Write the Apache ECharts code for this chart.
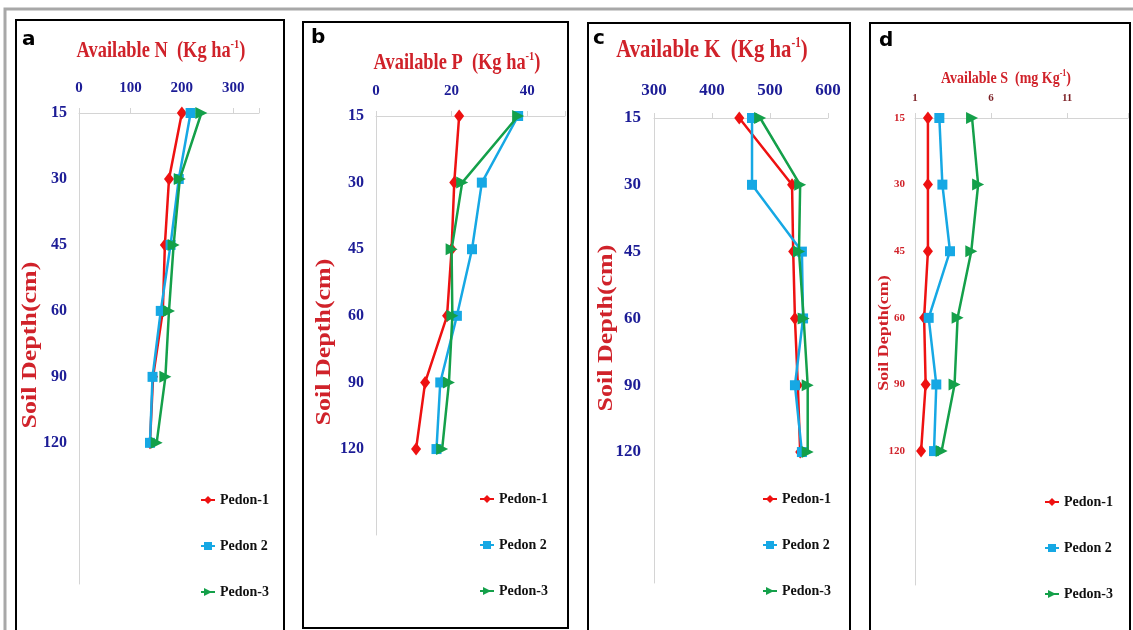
<!DOCTYPE html>
<html>
<head>
<meta charset="utf-8">
<script src="https://cdn.jsdelivr.net/npm/echarts@6/dist/echarts.min.js"></script>
<style>
  html, body { margin: 0; padding: 0; background: #fff; }
  #chart { width: 1133px; height: 630px; }
</style>
</head>
<body>
<div id="chart"></div>
<script>
  // depth categories (cm) shared by all four panels
  const depths = ['15', '30', '45', '60', '90', '120'];
  const pedons = ['Pedon-1', 'Pedon 2', 'Pedon-3'];

  // tick labels on the top axes
  const nTicks = [0, 100, 200, 300];
  const pTicks = [0, 20, 40];
  const kTicks = [300, 400, 500, 600];
  const sTicks = [1, 6, 11];

  // a - available N (Kg/ha)
  const nPedon1 = [200, 175, 167, 163, 144, 138];
  const nPedon2 = [217, 194, 178, 159, 143, 138];
  const nPedon3 = [238, 196, 184, 175, 168, 151];
  // b - available P (Kg/ha)
  const pPedon1 = [22, 20.7, 20, 18.8, 13, 10.6];
  const pPedon2 = [37.6, 28, 25.4, 21.4, 17, 16];
  const pPedon3 = [37.6, 22.8, 20, 20.2, 19.3, 17.5];
  // c - available K (Kg/ha)
  const kPedon1 = [447, 538, 540, 543, 548, 552];
  const kPedon2 = [469, 469, 555, 557, 543, 555];
  const kPedon3 = [483, 552, 550, 558, 565, 565];
  // d - available S (mg/Kg)
  const sPedon1 = [1.85, 1.85, 1.85, 1.6, 1.7, 1.4];
  const sPedon2 = [2.6, 2.8, 3.3, 1.9, 2.4, 2.25];
  const sPedon3 = [4.75, 5.15, 4.7, 3.8, 3.6, 2.75];

  const colors = ['#ee1111', '#16a8e4', '#14a04a'];
  const symbols = ['diamond', 'rect', 'triangle'];
  const serif = '"Liberation Serif", "Times New Roman", serif';
  const navy = '#1c1c96';
  const red = '#d0222a';

  const panels = [
    { grid: { left: 79, top: 113, width: 180, height: 471 }, min: 0, max: 350, ticks: nTicks, yMax: 7.14,
      data: [nPedon1, nPedon2, nPedon3], xFont: 15, yFont: 16, xColor: navy, yColor: navy, xMargin: 17, yMargin: 12 },
    { grid: { left: 376, top: 116, width: 189, height: 419 }, min: 0, max: 50, ticks: pTicks, yMax: 6.29,
      data: [pPedon1, pPedon2, pPedon3], xFont: 15, yFont: 16, xColor: navy, yColor: navy, xMargin: 17, yMargin: 12 },
    { grid: { left: 654, top: 118, width: 174, height: 465 }, min: 300, max: 600, ticks: kTicks, yMax: 6.96,
      data: [kPedon1, kPedon2, kPedon3], xFont: 17, yFont: 17, xColor: navy, yColor: navy, xMargin: 19, yMargin: 13 },
    { grid: { left: 915, top: 118, width: 213, height: 467 }, min: 1, max: 15, ticks: sTicks, yMax: 7.01,
      data: [sPedon1, sPedon2, sPedon3], xFont: 11, yFont: 11, xColor: '#7b1f24', yColor: red, xMargin: 14, yMargin: 10 }
  ];

  const legendPos = [
    { left: 195, top: 488 },
    { left: 474, top: 487 },
    { left: 757, top: 487 },
    { left: 1039, top: 490 }
  ];

  const grids = [], xAxes = [], yAxes = [], series = [], legends = [];
  panels.forEach((p, i) => {
    grids.push(p.grid);
    xAxes.push({
      type: 'value', gridIndex: i, position: 'top', min: p.min, max: p.max,
      splitLine: { show: false },
      axisLine: { show: true, lineStyle: { color: '#d4d4d4', width: 1 } },
      axisTick: { show: true, length: 5, lineStyle: { color: '#d4d4d4' }, customValues: p.ticks.concat([p.max]) },
      axisLabel: { customValues: p.ticks, margin: p.xMargin, color: p.xColor, fontFamily: serif,
                   fontWeight: 'bold', fontSize: p.xFont }
    });
    yAxes.push({
      type: 'value', gridIndex: i, inverse: true, min: 0, max: p.yMax,
      splitLine: { show: false },
      axisLine: { show: true, lineStyle: { color: '#d4d4d4', width: 1 } },
      axisTick: { show: false },
      axisLabel: { customValues: [0, 1, 2, 3, 4, 5], formatter: v => depths[v], margin: p.yMargin,
                   color: p.yColor, fontFamily: serif, fontWeight: 'bold', fontSize: p.yFont }
    });
    p.data.forEach((vals, k) => {
      series.push({
        name: pedons[k], type: 'line', xAxisIndex: i, yAxisIndex: i,
        data: vals.map((v, j) => [v, j]),
        symbol: symbols[k], symbolSize: k === 0 ? [10, 13] : (k === 1 ? 10 : 12),
        symbolRotate: k === 2 ? -90 : 0,
        lineStyle: { color: colors[k], width: 2.5 },
        itemStyle: { color: colors[k] },
        z: 2 + k
      });
    });
    legends.push(Object.assign({
      data: pedons, orient: 'vertical', itemWidth: 14, itemHeight: 10, itemGap: 32,
      textStyle: { fontFamily: serif, fontWeight: 'bold', fontSize: 14, color: '#111' }
    }, legendPos[i]));
  });

  // the source figure is squeezed sideways, so the titles get a little scale
  function titleText(x, y, main, sup, tail, size, rot) {
    return {
      type: 'text', x: x, y: y, rotation: rot || 0,
      scaleX: rot ? 1 : 0.8, scaleY: rot ? 0.8 : 1,
      style: {
        text: '{t|' + main + '}' + (sup ? '{s|' + sup + '}{t|' + tail + '}' : ''),
        align: 'center', verticalAlign: 'middle',
        rich: {
          t: { fontFamily: serif, fontWeight: 'bold', fontSize: size, fill: red, lineHeight: size + 2 },
          s: { fontFamily: serif, fontWeight: 'bold', fontSize: Math.round(size * 0.55), fill: red,
               verticalAlign: 'top', lineHeight: size + 2 }
        }
      }
    };
  }
  function letter(x, y, ch) {
    return { type: 'text', x: x, y: y,
      style: { text: ch, fontFamily: '"DejaVu Sans", sans-serif', fontWeight: 'bold', fontSize: 20,
               fill: '#000', verticalAlign: 'middle' } };
  }
  function box(x1, y1, x2, y2) {
    return { type: 'rect', shape: { x: x1, y: y1, width: x2 - x1, height: y2 - y1 },
      style: { fill: null, stroke: '#000', lineWidth: 2 }, z: 10 };
  }

  const graphic = [
    { type: 'polyline', shape: { points: [[5, 630], [5, 9], [1133, 9]] },
      style: { stroke: '#a8a8a8', lineWidth: 3, fill: null } },
    box(16, 20, 284, 631), box(303, 22, 568, 628), box(588, 23, 850, 631), box(870, 23, 1130, 631),
    letter(22, 40, 'a'), letter(311, 38, 'b'), letter(593, 39, 'c'), letter(879, 41, 'd'),
    titleText(161, 51, 'Available N  (Kg ha', '-1', ')', 23),
    titleText(457, 63, 'Available P  (Kg ha', '-1', ')', 23),
    titleText(712, 50, 'Available K  (Kg ha', '-1', ')', 26),
    titleText(1006, 78, 'Available S  (mg Kg', '-1', ')', 17.5),
    titleText(31, 345, 'Soil Depth(cm)', null, null, 26, Math.PI / 2),
    titleText(325, 342, 'Soil Depth(cm)', null, null, 26, Math.PI / 2),
    titleText(607, 328, 'Soil Depth(cm)', null, null, 26, Math.PI / 2),
    titleText(884, 333, 'Soil Depth(cm)', null, null, 18, Math.PI / 2)
  ];

  const chart = echarts.init(document.getElementById('chart'));
  chart.setOption({
    animation: false,
    backgroundColor: '#fff',
    grid: grids,
    xAxis: xAxes,
    yAxis: yAxes,
    legend: legends,
    series: series,
    graphic: graphic
  });
</script>
</body>
</html>
